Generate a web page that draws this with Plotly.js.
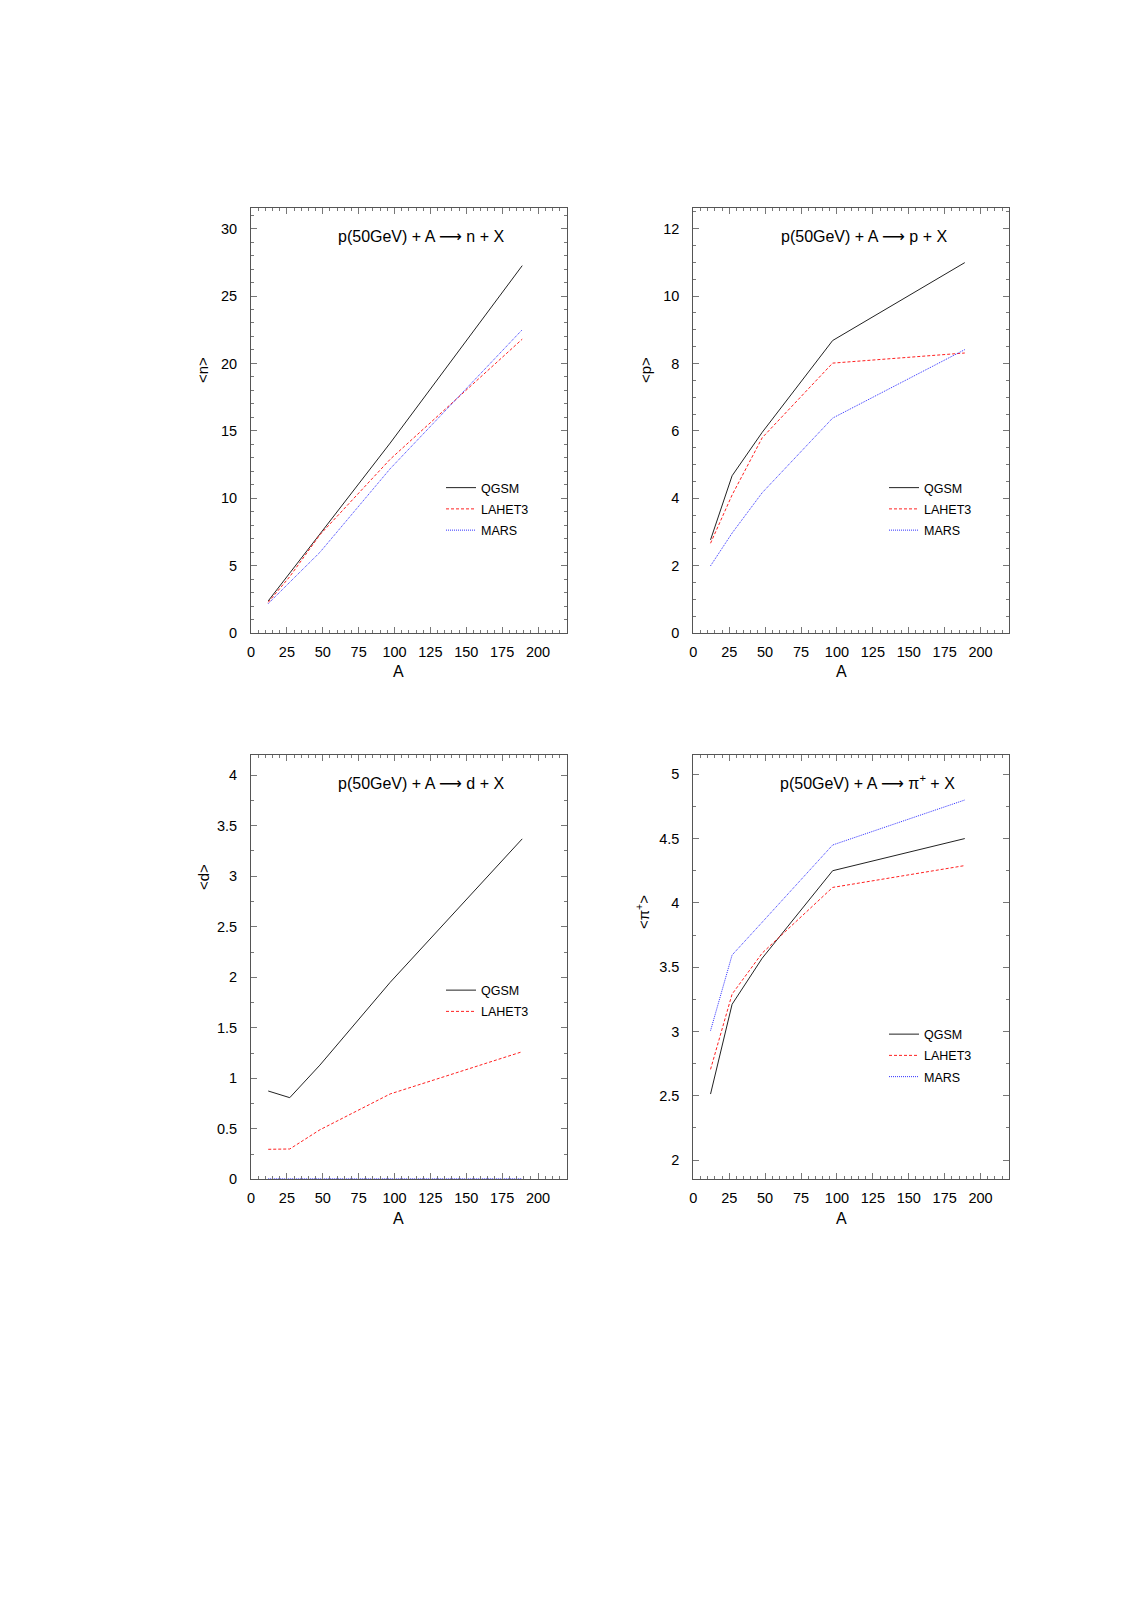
<!DOCTYPE html>
<html>
<head>
<meta charset="utf-8">
<script src="https://cdn.plot.ly/plotly-3.0.1.min.js"></script>
<style>html,body{margin:0;padding:0;background:#fff;}#chart{width:1144px;height:1616px;}</style>
</head>
<body>
<div id="chart"></div>
<script>
// ---- data ----
const A = [12, 27, 48, 97, 189];

const n_QGSM   = [2.4, 4.45, 7.4, 14.1, 27.25];
const n_LAHET3 = [2.3, 4.2, 7.3, 12.9, 21.8];
const n_MARS   = [2.2, 3.8, 6.0, 12.2, 22.5];

const p_QGSM   = [2.77, 4.67, 5.96, 8.68, 10.99];
const p_LAHET3 = [2.67, 4.1, 5.8, 8.01, 8.31];
const p_MARS   = [2.0, 2.97, 4.17, 6.38, 8.41];

const d_QGSM   = [0.874, 0.808, 1.13, 1.95, 3.37];
const d_LAHET3 = [0.297, 0.30, 0.49, 0.845, 1.263];
const d_MARS   = [0.005, 0.005, 0.005, 0.005, 0.005];

const pi_QGSM   = [2.513, 3.211, 3.57, 4.25, 4.50];
const pi_LAHET3 = [2.705, 3.29, 3.61, 4.12, 4.29];
const pi_MARS   = [3.006, 3.594, 3.85, 4.45, 4.80];

const seriesNames = ['QGSM', 'LAHET3', 'MARS'];
const xTickVals = [0, 25, 50, 75, 100, 125, 150, 175, 200];

const ARROW = '<span style="font-family:\'DejaVu Sans\'">\u27f6</span>';
const titles = [
  'p(50GeV) + A ' + ARROW + ' n + X',
  'p(50GeV) + A ' + ARROW + ' p + X',
  'p(50GeV) + A ' + ARROW + ' d + X',
  'p(50GeV) + A ' + ARROW + ' \u03c0<sup>+</sup> + X'
];
const yTitles = ['&lt;n&gt;', '&lt;p&gt;', '&lt;d&gt;', '&lt;\u03c0<sup>+</sup>&gt;'];

// ---- styling ----
const FONT = 'Liberation Sans, Arial, Helvetica, sans-serif';
const W = 1144, H = 1616;
const px = v => v / W;
const py = v => 1 - v / H;

const styles = {
  QGSM:   {color: '#222222', width: 1, dash: 'solid'},
  LAHET3: {color: '#ff2020', width: 1, dash: '3px,2px'},
  MARS:   {color: '#3030ff', width: 1, dash: '1px,1px'}
};

// panel frames in pixels: [left, right, top, bottom]
const frames = [
  [251, 566.7, 208.3, 633.3],
  [693.3, 1009.3, 208.3, 633.3],
  [251, 566.7, 755, 1179.3],
  [693.3, 1009.3, 755, 1179.3]
];
const yRanges = [[0, 31.5], [0, 12.6], [0, 4.2], [1.85, 5.15]];
const yDticks = [5, 2, 0.5, 0.5];
const yMinor = [1, 0.5, 0.25, 0.25];

const panelData = [
  [n_QGSM, n_LAHET3, n_MARS],
  [p_QGSM, p_LAHET3, p_MARS],
  [d_QGSM, d_LAHET3, d_MARS],
  [pi_QGSM, pi_LAHET3, pi_MARS]
];
const legendShow = [[true, true, true], [true, true, true], [true, true, false], [true, true, true]];
// legend anchor (px): left edge, top
const legendPos = [[441, 473], [884, 473], [441, 975.5], [884, 1019.5]];
const titlePos = [[421, 237], [864, 237], [421, 783], [867, 782]];
const yTitlePos = [[203, 370], [646, 370], [203, 877], [643, 912]];
const xTitlePos = [[398, 672], [841, 672], [398, 1218], [841, 1218]];

const traces = [];
const hiddenTraces = [];
const layout = {
  width: W, height: H,
  margin: {l: 0, r: 0, t: 0, b: 0},
  paper_bgcolor: '#ffffff', plot_bgcolor: '#ffffff',
  font: {family: FONT, color: '#000000'},
  showlegend: true,
  annotations: []
};

for (let i = 0; i < 4; i++) {
  const k = i === 0 ? '' : String(i + 1);
  const f = frames[i];
  const lg = i === 0 ? 'legend' : 'legend' + (i + 1);
  panelData[i].forEach((ys, j) => {
    const nm = seriesNames[j];
    const shown = legendShow[i][j];
    const tr = {
      x: A, y: ys, type: 'scatter', mode: 'lines', name: nm,
      line: Object.assign({}, styles[nm]), xaxis: 'x' + k, yaxis: 'y' + k,
      legend: shown ? lg : 'legend', legendgroup: 'p' + i + nm,
      showlegend: shown, hoverinfo: 'skip'
    };
    if (shown) traces.push(tr); else hiddenTraces.push(tr);
  });
  const axCommon = {
    showline: true, linecolor: '#555555', linewidth: 1,
    mirror: 'allticks', ticks: 'inside', ticklen: 6, tickcolor: '#777777', tickwidth: 1,
    showgrid: false, zeroline: false,
    tickfont: {family: FONT, size: 14.5, color: '#000000'}
  };
  layout['xaxis' + k] = Object.assign({}, axCommon, {
    domain: [px(f[0]), px(f[1])], anchor: 'y' + k,
    range: [0, 220], tickvals: xTickVals, ticklabelstandoff: 5,
    minor: {ticks: 'inside', ticklen: 3, tickcolor: '#777777', dtick: 5, tick0: 0, showgrid: false}
  });
  layout['yaxis' + k] = Object.assign({}, axCommon, {
    domain: [py(f[3]), py(f[2])], anchor: 'x' + k,
    range: yRanges[i], dtick: yDticks[i], tick0: 0, ticklabelstandoff: 10,
    minor: {ticks: 'inside', ticklen: 3, tickcolor: '#777777', dtick: yMinor[i], tick0: 0, showgrid: false}
  });
  layout[lg] = {
    x: px(legendPos[i][0]), y: py(legendPos[i][1]), xanchor: 'left', yanchor: 'top',
    bgcolor: 'rgba(0,0,0,0)', borderwidth: 0,
    font: {family: FONT, size: 12.5, color: '#000000'},
    itemwidth: 30, tracegroupgap: 2, traceorder: 'grouped'
  };
  layout.annotations.push({
    text: titles[i], xref: 'paper', yref: 'paper',
    x: px(titlePos[i][0]), y: py(titlePos[i][1]), xanchor: 'center', yanchor: 'middle',
    showarrow: false, font: {family: FONT, size: 16, color: '#000000'}
  });
  layout.annotations.push({
    text: yTitles[i], xref: 'paper', yref: 'paper',
    x: px(yTitlePos[i][0]), y: py(yTitlePos[i][1]), xanchor: 'center', yanchor: 'middle',
    textangle: -90, showarrow: false, font: {family: FONT, size: 15, color: '#000000'}
  });
  layout.annotations.push({
    text: 'A', xref: 'paper', yref: 'paper',
    x: px(xTitlePos[i][0]), y: py(xTitlePos[i][1]), xanchor: 'center', yanchor: 'middle',
    showarrow: false, font: {family: FONT, size: 16, color: '#000000'}
  });
}

Plotly.newPlot('chart', traces.concat(hiddenTraces), layout, {staticPlot: true, displayModeBar: false});
</script>
</body>
</html>
